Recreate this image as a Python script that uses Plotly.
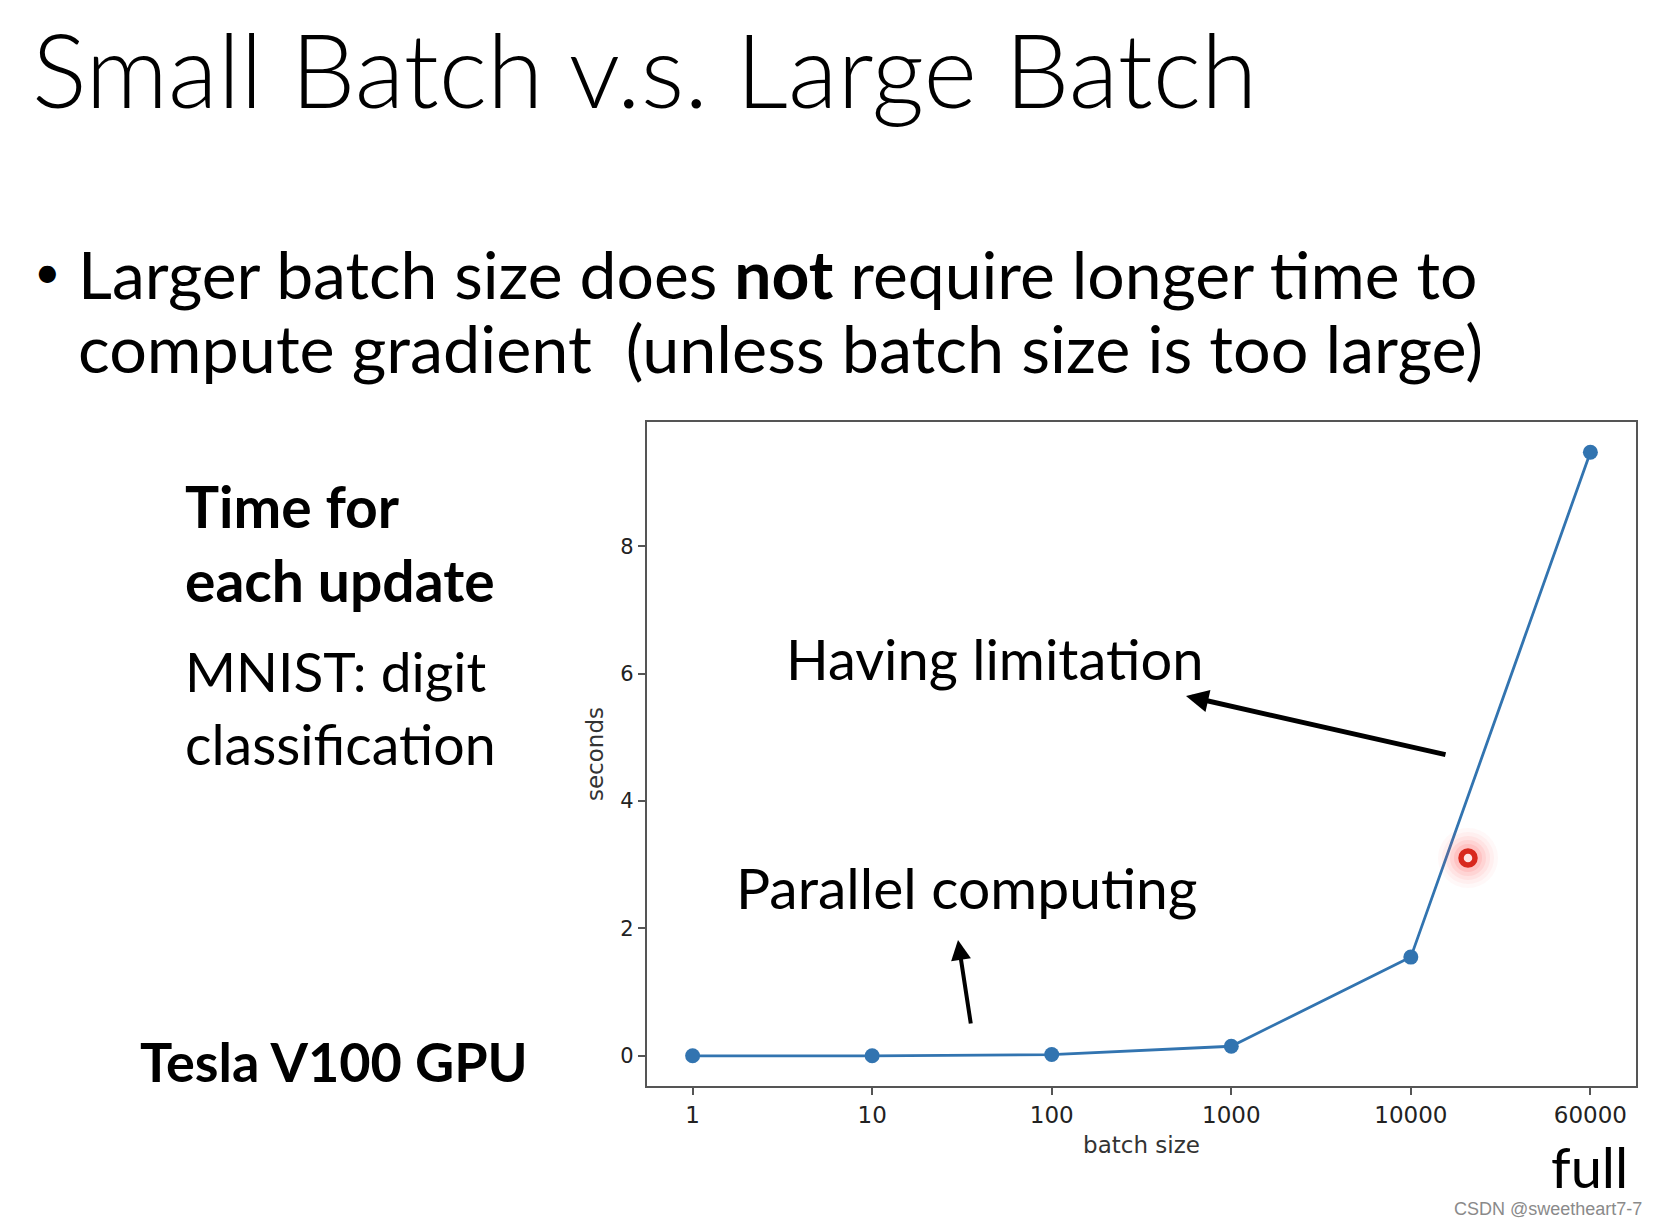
import plotly.graph_objects as go

# ---- data ----
batch_sizes = ["1", "10", "100", "1000", "10000", "60000"]
seconds = [0.00, 0.00, 0.02, 0.15, 1.55, 9.48]
y_ticks = [0, 2, 4, 6, 8]

title_text = "Small Batch v.s. Large Batch"
bullet_line1 = "Larger batch size does <b>not</b> require longer time to"
bullet_line2 = "compute gradient  (unless batch size is too large)"
left_lines = ["<b>Time for</b>", "<b>each update</b>", "MNIST: digit", "classification"]
gpu_text = "<b>Tesla V100 GPU</b>"

W, H = 1660, 1222
L, R, T, B = 647, 1636, 422, 1086


def px(x):
    return (x - L) / (R - L)


def py(y):
    return (B - y) / (B - T)


SLIDE_FONT = "Lato, Open Sans, sans-serif"
AX_FONT = "DejaVu Sans, sans-serif"

fig = go.Figure()
fig.add_trace(go.Scatter(
    x=batch_sizes, y=seconds, mode="lines+markers",
    line=dict(color="#3274b0", width=2.8),
    marker=dict(color="#3274b0", size=15),
    showlegend=False, hoverinfo="skip"))

ann = []


def text(x, y, s, size, anchor="left", color="#000", family=SLIDE_FONT, weight=None):
    f = dict(family=family, size=size, color=color)
    if weight:
        f["weight"] = weight
    ann.append(dict(x=px(x), y=py(y), xref="paper", yref="paper", text=s,
                    showarrow=False, xanchor=anchor, yanchor="middle", font=f))


# title and bullet
text(30, 68, title_text, 102.5, weight=300)
text(47, 270, "•", 46, anchor="center")
text(76, 274, bullet_line1, 66)
text(76, 347, bullet_line2, 66.5)
# left block
text(183, 506, left_lines[0], 57)
text(183, 580, left_lines[1], 57)
text(183, 671, left_lines[2], 55)
text(183, 743, left_lines[3], 55.5)
text(138, 1061, gpu_text, 54)
# in-plot annotations
text(994, 658, "Having limitation", 56, anchor="center")
text(967, 887, "Parallel computing", 57, anchor="center")
text(1589, 1166, "full", 56, anchor="center")
text(1644, 1209, "CSDN @sweetheart7-7", 18, anchor="right", color="#8a8a8a",
     family="Liberation Sans, Arial, sans-serif")

# arrows
ann.append(dict(x=px(1186), y=py(696), xref="paper", yref="paper", ax=261, ay=59,
                showarrow=True, arrowhead=2, arrowsize=0.9, arrowwidth=5,
                arrowcolor="#000", text=""))
ann.append(dict(x=px(958), y=py(940), xref="paper", yref="paper", ax=13, ay=85,
                showarrow=True, arrowhead=2, arrowsize=1.0, arrowwidth=4,
                arrowcolor="#000", text=""))

shapes = []
cx, cy = 1468, 858
for r, op in [(30, 0.04), (26, 0.05), (22, 0.07), (18, 0.09), (14, 0.12)]:
    shapes.append(dict(type="circle", xref="paper", yref="paper",
                       x0=px(cx - r), x1=px(cx + r), y0=py(cy + r), y1=py(cy - r),
                       fillcolor=f"rgba(255,70,70,{op})", line=dict(width=0)))
shapes.append(dict(type="circle", xref="paper", yref="paper",
                   x0=px(cx - 7), x1=px(cx + 7), y0=py(cy + 7), y1=py(cy - 7),
                   fillcolor="#ffe4e4", line=dict(color="#d8281e", width=5.5)))

fig.update_layout(
    width=W, height=H,
    margin=dict(l=L, r=W - R, t=T, b=H - B),
    paper_bgcolor="white", plot_bgcolor="white",
    annotations=ann, shapes=shapes,
    xaxis=dict(type="category", range=[-0.254, 5.254], showgrid=False, zeroline=False,
               showline=True, mirror=True, linecolor="#555555", linewidth=2.4,
               ticks="outside", ticklen=7, tickwidth=1.8, tickcolor="#555555",
               tickfont=dict(family=AX_FONT, size=23, color="#222"),
               title=dict(text="batch size", standoff=10,
                          font=dict(family=AX_FONT, size=23, color="#333"))),
    yaxis=dict(range=[-0.474, 9.954], tickvals=y_ticks, showgrid=False, zeroline=False,
               showline=True, mirror=True, linecolor="#555555", linewidth=2.4,
               ticks="outside", ticklen=7, tickwidth=1.8, tickcolor="#555555",
               tickfont=dict(family=AX_FONT, size=21, color="#222"),
               title=dict(text="seconds", standoff=10,
                          font=dict(family=AX_FONT, size=23, color="#333"))),
)

fig.write_html("out.html")
